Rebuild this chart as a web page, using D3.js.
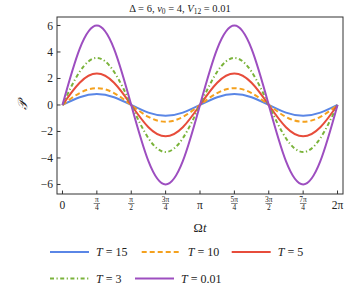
<!DOCTYPE html>
<html><head><meta charset="utf-8">
<script src="https://cdn.jsdelivr.net/npm/d3@7"></script>
<style>body{margin:0;background:#fff}svg{display:block}text{font-family:"Liberation Serif","DejaVu Serif",serif;fill:#222}</style>
</head><body>
<svg id="c" width="360" height="295"></svg>
<script>
const PI = Math.PI;
// sample positions (multiples of pi/8)
const xSteps = [0,1,2,3,4,5,6,7,8,9,10,11,12,13,14,15,16];
const seriesNames = ["T = 15","T = 10","T = 5","T = 3","T = 0.01"];
const tLabels = ["15","10","5","3","0.01"];
const yT15  = [0,0.58,0.82,0.58,0,-0.58,-0.82,-0.58,0,0.58,0.82,0.58,0,-0.58,-0.82,-0.58,0];
const yT10  = [0,0.9,1.27,0.9,0,-0.9,-1.27,-0.9,0,0.9,1.27,0.9,0,-0.9,-1.27,-0.9,0];
const yT5   = [0,1.68,2.37,1.68,0,-1.68,-2.37,-1.68,0,1.68,2.37,1.68,0,-1.68,-2.37,-1.68,0];
const yT3   = [0,2.51,3.55,2.51,0,-2.51,-3.55,-2.51,0,2.51,3.55,2.51,0,-2.51,-3.55,-2.51,0];
const yT001 = [0,4.24,6.0,4.24,0,-4.24,-6.0,-4.24,0,4.24,6.0,4.24,0,-4.24,-6.0,-4.24,0];
const yTicks = [-6,-4,-2,0,2,4,6];
const xTickLabels = ["0","π/4","π/2","3π/4","π","5π/4","3π/2","7π/4","2π"];
const xTickSteps = [0,1,2,3,4,5,6,7,8]; // multiples of pi/4

const colors = ["#5a86e6","#f4a11e","#e74c3b","#7ab33a","#9d4ec0"];
const dashes = [null,"5,3",null,"4,2.5,1.2,2.5",null];
const allY = [yT15,yT10,yT5,yT3,yT001];

const svg = d3.select("#c");
const L=57,R=343,T=17,B=194;
const x = d3.scaleLinear().domain([-0.125, 2*PI+0.125]).range([L,R]);
const y = d3.scaleLinear().domain([-6.72,6.64]).range([B,T]);

const line = d3.line().x(d=>x(d[0])).y(d=>y(d[1])).curve(d3.curveNatural);
const g = svg.append("g");
allY.forEach((ys,i)=>{
  const pts = xSteps.map((k,j)=>[k*PI/8, ys[j]]);
  g.append("path").attr("d",line(pts)).attr("fill","none")
    .attr("stroke",colors[i]).attr("stroke-width",2)
    .attr("stroke-dasharray",dashes[i]);
});

// frame
svg.append("rect").attr("x",L).attr("y",T).attr("width",R-L).attr("height",B-T)
  .attr("fill","none").attr("stroke","#333").attr("stroke-width",1);

// y ticks
yTicks.forEach(v=>{
  svg.append("line").attr("x1",L).attr("x2",L+3.5).attr("y1",y(v)).attr("y2",y(v)).attr("stroke","#333");
  svg.append("text").attr("x",L-4).attr("y",y(v)).attr("dy","0.35em").attr("text-anchor","end")
    .attr("font-size",11.5).text(v<0?"−"+Math.abs(v):String(v));
});
// x ticks
xTickSteps.forEach((k,i)=>{
  const px = x(k*PI/4);
  svg.append("line").attr("x1",px).attr("x2",px).attr("y1",B).attr("y2",B-3.5).attr("stroke","#333");
  const lab = xTickLabels[i];
  if(lab.includes("/")){
    const [n,d] = lab.split("/");
    svg.append("text").attr("x",px).attr("y",201.5).attr("text-anchor","middle").attr("font-size",7.5).text(n);
    svg.append("line").attr("x1",px-3.2).attr("x2",px+3.2).attr("y1",203.5).attr("y2",203.5).attr("stroke","#333").attr("stroke-width",0.6);
    svg.append("text").attr("x",px).attr("y",209.5).attr("text-anchor","middle").attr("font-size",7.5).text(d);
  } else {
    svg.append("text").attr("x",px).attr("y",204.5).attr("dy","0.35em").attr("text-anchor","middle").attr("font-size",11.5).text(lab);
  }
});

// axis labels
const xl = svg.append("text").attr("x",(L+R)/2).attr("y",232).attr("text-anchor","middle").attr("font-size",12.5);
xl.append("tspan").text("Ω");
xl.append("tspan").attr("font-style","italic").text("t");

svg.append("text").attr("transform","translate(27,105) rotate(-90)").attr("text-anchor","middle")
  .attr("font-size",13).attr("font-style","italic").text("𝒫");

// title
const tt = svg.append("text").attr("x",180).attr("y",12).attr("text-anchor","middle").attr("font-size",10.5);
tt.append("tspan").text("Δ = 6, ");
tt.append("tspan").attr("font-style","italic").text("ν");
tt.append("tspan").attr("font-size",7.5).attr("dy",2).text("0");
tt.append("tspan").attr("dy",-2).text(" = 4, ");
tt.append("tspan").attr("font-style","italic").text("V");
tt.append("tspan").attr("font-size",7.5).attr("dy",2).text("12");
tt.append("tspan").attr("dy",-2).text(" = 0.01");

// legend
const legPos = [[50,252],[141.7,252],[231.7,252],[50,278.5],[135,278.5]];
seriesNames.forEach((nm,i)=>{
  const [lx,ly] = legPos[i];
  svg.append("line").attr("x1",lx).attr("x2",lx+39).attr("y1",ly).attr("y2",ly)
    .attr("stroke",colors[i]).attr("stroke-width",2).attr("stroke-dasharray",dashes[i]);
  const t = svg.append("text").attr("x",lx+46).attr("y",ly).attr("dy","0.35em").attr("font-size",12);
  t.append("tspan").attr("font-style","italic").text("T");
  t.append("tspan").attr("dx",3).text("=");
  t.append("tspan").attr("dx",3).text(tLabels[i]);
});
</script>
</body></html>
